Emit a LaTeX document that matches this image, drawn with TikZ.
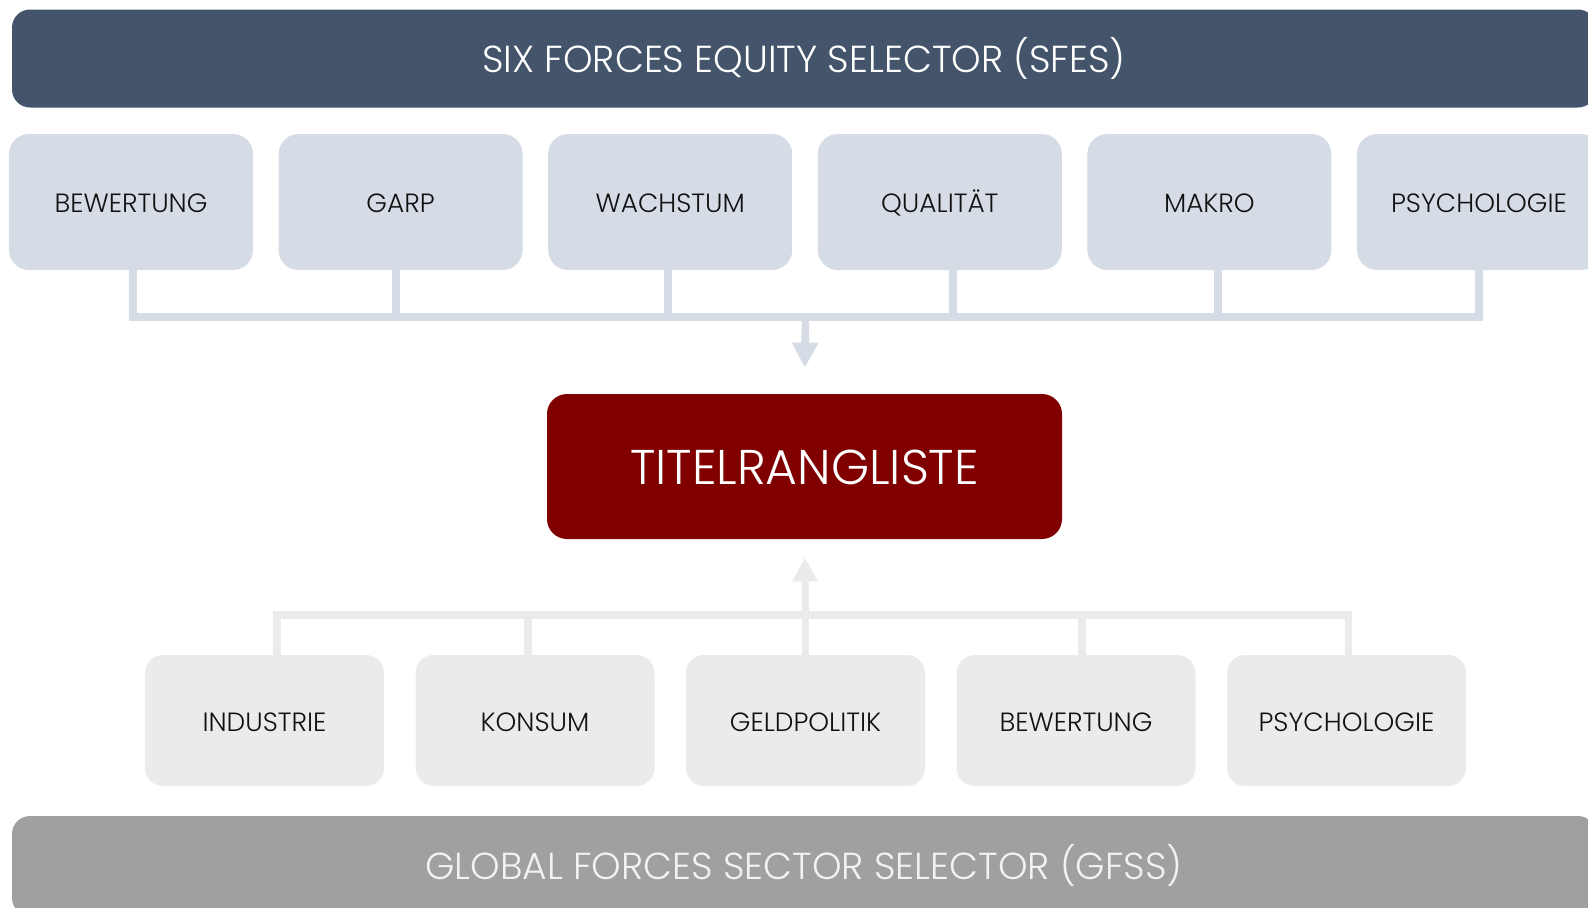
\documentclass[tikz,border=0pt]{standalone}
\usepackage{fontspec}
\setmainfont{Poppins}[UprightFont={* Light}]
\usetikzlibrary{arrows.meta}
\definecolor{barblue}{HTML}{44546A}
\definecolor{bargray}{HTML}{A0A0A0}
\definecolor{topfill}{HTML}{D6DCE5}
\definecolor{botfill}{HTML}{EBEBEB}
\definecolor{rankred}{HTML}{800000}
\definecolor{labeltext}{HTML}{111111}
\begin{document}
\begin{tikzpicture}[x=0.5pt,y=-0.5pt,
  bar/.style={rounded corners=9pt, inner sep=0pt, minimum width=792pt, minimum height=49pt,
    text height=13.8pt, text depth=0pt, font=\fontsize{18.8pt}{22pt}\selectfont},
  label/.style={inner sep=0pt, text=labeltext, text height=10.8pt, text depth=0pt,
    font=\fontsize{13.2pt}{15pt}\selectfont},
  topbox/.style={label, fill=topfill, rounded corners=10pt, minimum width=122pt, minimum height=68pt},
  botbox/.style={label, fill=botfill, rounded corners=9pt, minimum width=119.5pt, minimum height=65.5pt},
  rankbox/.style={fill=rankred, rounded corners=10pt, inner sep=0pt, minimum width=257.5pt,
    minimum height=72.5pt, text=white, text height=17.6pt, text depth=0pt,
    font=\fontsize{24.4pt}{28pt}\selectfont},
  topconn/.style={draw=topfill, line width=3.8pt},
  botconn/.style={draw=botfill, line width=3.6pt},
]
\useasboundingbox (0,0) rectangle (1588,907);
\clip (0,0) rectangle (1588,907);

% header and footer bars
\node[bar, fill=barblue, text=white] (sfes) at (804,58.5) {SIX FORCES EQUITY SELECTOR (SFES)};
\node[bar, fill=bargray, text=white!95!black, minimum height=50pt] (gfss) at (804,866) {GLOBAL FORCES SECTOR SELECTOR (GFSS)};

% equity factors
\node[topbox] (t1) at (131,202) {BEWERTUNG};
\node[topbox] (t2) at (400.6,202) {GARP};
\node[topbox] (t3) at (670.2,202) {WACHSTUM};
\node[topbox] (t4) at (939.8,202) {QUALITÄT};
\node[topbox] (t5) at (1209.4,202) {MAKRO};
\node[topbox] (t6) at (1479,202) {PSYCHOLOGIE};

% ranking
\node[rankbox] (rank) at (804.5,466.5) {TITELRANGLISTE};

% sector factors
\node[botbox] (b1) at (264.5,720.5) {INDUSTRIE};
\node[botbox] (b2) at (535,720.5) {KONSUM};
\node[botbox] (b3) at (805.5,720.5) {GELDPOLITIK};
\node[botbox] (b4) at (1076,720.5) {BEWERTUNG};
\node[botbox] (b5) at (1346.5,720.5) {PSYCHOLOGIE};

% collector buses
\coordinate (busT) at (805.5,317);
\coordinate (busB) at (805.5,615);

\draw[topconn] ([xshift=1pt]t1.south) |- (busT);
\draw[topconn] ([xshift=-2.3pt]t2.south) |- (busT);
\draw[topconn] ([xshift=-1.1pt]t3.south) |- (busT);
\draw[topconn] ([xshift=6.6pt]t4.south) |- (busT);
\draw[topconn] ([xshift=4.3pt]t5.south) |- (busT);
\draw[topconn] (t6.south) |- (busT);
\draw[topconn, -{Triangle[width=12.5pt,length=12.5pt]}, shorten >=13pt] (busT) -- (rank.north);

\draw[botconn] ([xshift=6.2pt]b1.north) |- (busB);
\draw[botconn] ([xshift=-3.5pt]b2.north) |- (busB);
\draw[botconn] (b3.north) -- (busB);
\draw[botconn] ([xshift=3pt]b4.north) |- (busB);
\draw[botconn] ([xshift=0.8pt]b5.north) |- (busB);
\draw[botconn, -{Triangle[width=12pt,length=12pt]}, shorten >=9pt] (busB) -- (rank.south);
\end{tikzpicture}
\end{document}
